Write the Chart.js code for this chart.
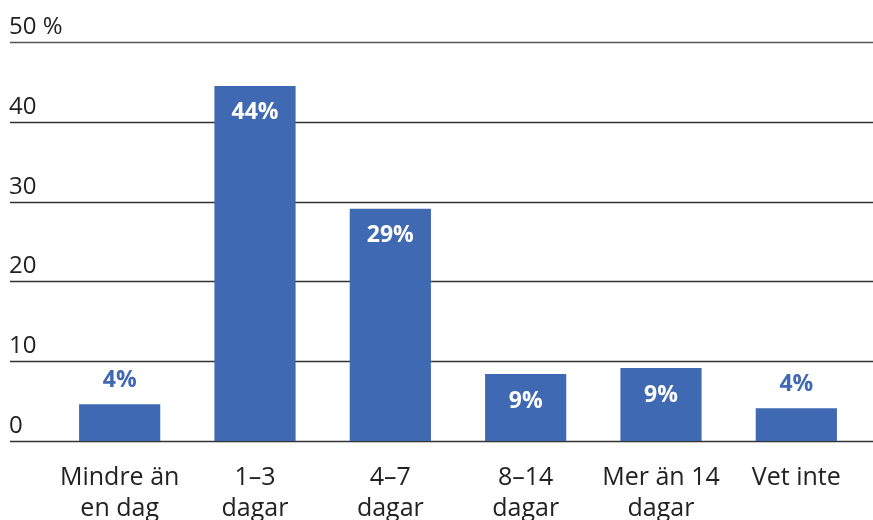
<!DOCTYPE html>
<html>
<head>
<meta charset="utf-8">
<script src="https://cdn.jsdelivr.net/npm/chart.js@4/dist/chart.umd.min.js"></script>
<style>
html,body{margin:0;padding:0;background:#fff;overflow:hidden;}
#wrap{width:873px;height:560px;position:relative;}
</style>
</head>
<body>
<div id="wrap"><canvas id="c" width="873" height="560"></canvas></div>
<script>
const categories = [["Mindre än","en dag"],["1–3","dagar"],["4–7","dagar"],["8–14","dagar"],["Mer än 14","dagar"],["Vet inte"]];
const values = [4.6, 44.5, 29.1, 8.4, 9.15, 4.1];
const valueLabels = ["4%","44%","29%","9%","9%","4%"];
const yTicks = [0,10,20,30,40,50];
const yTickLabels = ["0","10","20","30","40","50 %"];

const BLUE = "#3f69b3";
const FONT = "'Open Sans', Lato, sans-serif";

const gridPlugin = {
  id: "fullGrid",
  beforeDatasetsDraw(chart) {
    const ctx = chart.ctx, y = chart.scales.y;
    ctx.save();
    ctx.font = "24px " + FONT;
    ctx.textAlign = "left";
    ctx.textBaseline = "middle";
    ctx.fillStyle = "#222";
    yTicks.forEach((v, i) => {
      const py = Math.round(y.getPixelForValue(v)) + 0.5;
      ctx.beginPath();
      ctx.lineWidth = v === 50 ? 1.6 : 1.3;
      ctx.strokeStyle = v === 50 ? "#555" : "#333";
      ctx.moveTo(10, py);
      ctx.lineTo(chart.width, py);
      ctx.stroke();
      ctx.fillText(yTickLabels[i], 9, py - 15);
    });
    ctx.restore();
  }
};

const labelPlugin = {
  id: "valLabels",
  afterDatasetsDraw(chart) {
    const ctx = chart.ctx;
    const meta = chart.getDatasetMeta(0);
    ctx.save();
    ctx.font = "bold 23px " + FONT;
    ctx.textAlign = "center";
    ctx.textBaseline = "middle";
    meta.data.forEach((bar, i) => {
      const v = values[i];
      if (v < 6) {
        ctx.fillStyle = BLUE;
        ctx.fillText(valueLabels[i], bar.x, bar.y - 24);
      } else {
        ctx.fillStyle = "#fff";
        ctx.fillText(valueLabels[i], bar.x, bar.y + 27);
      }
    });
    ctx.restore();
  }
};

new Chart(document.getElementById("c"), {
  type: "bar",
  data: {
    labels: categories,
    datasets: [{
      data: values,
      backgroundColor: BLUE,
      barPercentage: 0.6,
      categoryPercentage: 1.0
    }]
  },
  options: {
    responsive: false,
    animation: false,
    layout: { padding: { left: 10, right: 9, top: 42, bottom: 0 } },
    plugins: { legend: { display: false }, tooltip: { enabled: false } },
    scales: {
      y: {
        min: 0, max: 50,
        afterFit(s) { s.width = 42; },
        border: { display: false },
        grid: { display: false },
        ticks: { display: false, stepSize: 10 }
      },
      x: {
        afterFit(s) { s.height = 560 - 441; },
        border: { display: false },
        grid: { display: false },
        ticks: {
          maxRotation: 0,
          autoSkip: false,
          padding: 13,
          color: "#222",
          font: { family: FONT, size: 25, lineHeight: 1.25 }
        }
      }
    }
  },
  plugins: [gridPlugin, labelPlugin]
});
</script>
</body>
</html>
